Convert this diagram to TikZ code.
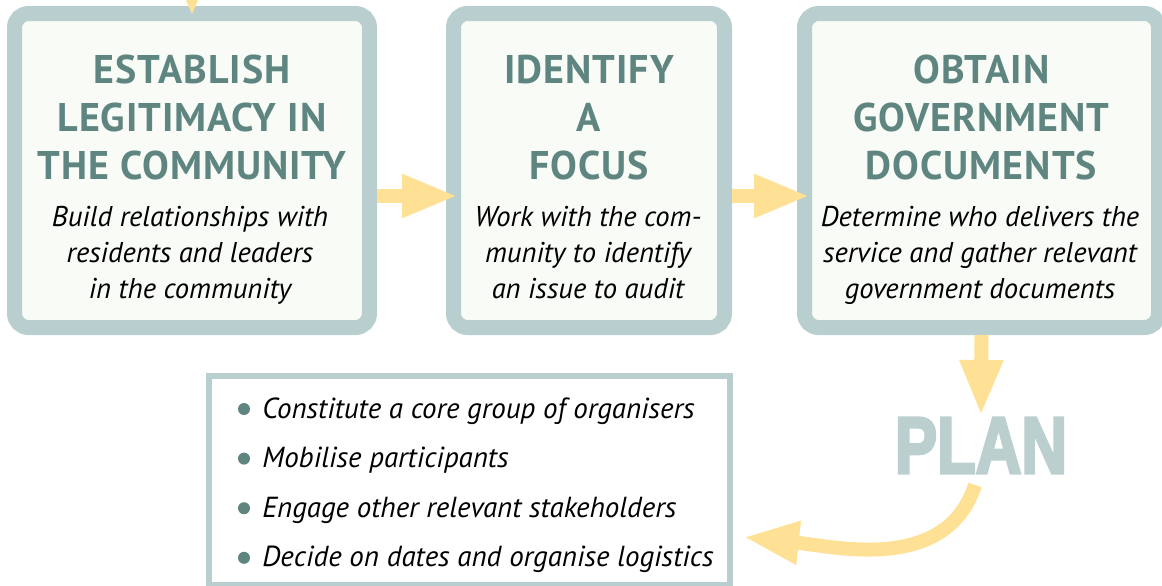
\documentclass[tikz,border=0pt]{standalone}
\usepackage{fontspec}
\setmainfont{PT Sans}
\newfontfamily\headfont[LetterSpace=2.5]{PT Sans}
\newfontfamily\planfont[FakeBold=4]{Liberation Sans}
\usepackage{tikz}
\usetikzlibrary{calc, positioning, arrows.meta}

\definecolor{frame}{HTML}{B9CECE}
\definecolor{paper}{HTML}{F9FBF6}
\definecolor{headteal}{HTML}{5E8580}
\definecolor{flowyellow}{HTML}{FFE196}
\definecolor{plangrey}{HTML}{BBCFCE}

\tikzset{
  stage/.style={draw=frame, fill=paper, line width=7.5pt, rounded corners=7pt,
    minimum height=157pt, inner sep=0pt},
  heading/.style={anchor=north, inner sep=0pt, align=center, text=headteal,
    font=\headfont\bfseries\fontsize{20pt}{24pt}\selectfont},
  blurb/.style={anchor=north, inner sep=0pt, align=center,
    font=\itshape\fontsize{14.3pt}{18pt}\selectfont},
  flow/.style={draw=flowyellow, line width=7pt,
    -{Triangle[length=28pt, width=20pt]}},
  dot/.style={circle, fill=headteal, minimum size=6pt, inner sep=0pt},
  item/.style={anchor=base west, inner sep=0pt,
    font=\itshape\fontsize{14.5pt}{18pt}\selectfont}
}

\begin{document}
\begin{tikzpicture}[x=0.5pt, y=-0.5pt]
    \useasboundingbox (0,0) rectangle (1162,585);

    % The three stages
    \node[stage, minimum width=177.5pt] (establish) at (192,170.5) {};
    \node[stage, minimum width=135.5pt] (identify) at (589,170.5) {};
    \node[stage, minimum width=177pt] (obtain) at (981.5,170.5) {};

    \node[heading] (establish-title) at (192,55) {ESTABLISH\\LEGITIMACY IN\\THE COMMUNITY};
    \node[heading] (identify-title) at (589,55) {IDENTIFY\\A\\FOCUS};
    \node[heading] (obtain-title) at (981.5,55) {OBTAIN\\GOVERNMENT\\DOCUMENTS};

    \node[blurb] (establish-text) at (190,206) {Build relationships with\\residents and leaders\\in the community};
    \node[blurb] (identify-text) at (588,206) {Work with the com-\\munity to identify\\an issue to audit};
    \node[blurb] (obtain-text) at (980,206) {Determine who delivers the\\service and gather relevant\\government documents};

    % Planning list
    \node[draw=frame, fill=white, line width=3pt, minimum width=260.5pt,
      minimum height=104.5pt, inner sep=0pt] (tasks) at (469.5,480.5) {};
    \foreach \txt [count=\i from 0] in {Constitute a core group of organisers,
        Mobilise participants, Engage other relevant stakeholders,
        Decide on dates and organise logistics} {
      \pgfmathsetmacro{\yb}{418 + 49.6*\i}
      \node[dot] (bullet-\i) at (244,\yb-9) {};
      \node[item] (task-\i) at (262,\yb) {\txt};
    }

    \node[inner sep=0.8pt, text=plangrey,
      font=\planfont\bfseries\fontsize{40pt}{40pt}\selectfont] (plan) at (981,445.5)
      {\scalebox{0.79}[1]{PLAN}};

    % Arrows between the stages
    \coordinate (feed) at (192,-60);
    \coordinate (plan-out) at (975,485);
    \coordinate (tasks-in) at (743,537);
    \draw[flow, shorten >=-5.5pt] (feed) -- (establish.north);
    \draw[flow, shorten >=-6pt]
      ([yshift=-12.75pt]establish.east) -- ([yshift=-12.75pt]identify.west);
    \draw[flow, shorten >=-6.5pt]
      ([yshift=-12.75pt]identify.east) -- ([yshift=-12.75pt]obtain.west);
    \draw[flow] (obtain.south) -- (plan.north);
    \draw[flow] (plan-out) to[out=252, in=-6] (tasks-in);
\end{tikzpicture}
\end{document}
